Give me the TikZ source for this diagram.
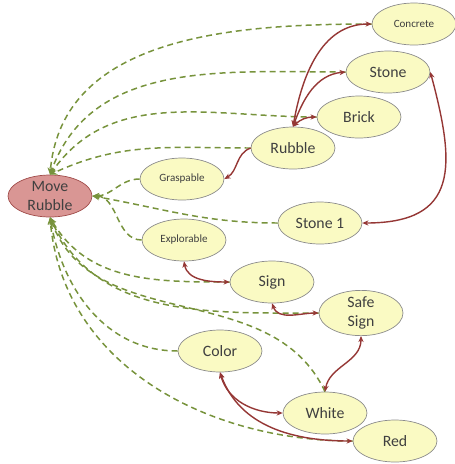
\documentclass[tikz,border=0pt]{standalone}
\usepackage{fontspec}
\setmainfont{Carlito}
\usepackage{tikz}
\tikzset{>=latex}
\usetikzlibrary{shapes.geometric,arrows.meta}
\definecolor{conceptfill}{HTML}{FAFAC3}
\definecolor{conceptline}{HTML}{8C8C8C}
\definecolor{goalfill}{HTML}{D99694}
\definecolor{goalline}{HTML}{A04C4A}
\definecolor{linkgreen}{HTML}{77933C}
\definecolor{linkred}{HTML}{953735}
\tikzset{
    concept/.style={ellipse, draw=conceptline, fill=conceptfill, minimum width=1.68cm,
        minimum height=0.84cm, inner sep=0pt, text=black!75, align=center,
        font=\fontsize{9}{10.5}\selectfont},
    smallconcept/.style={concept, font=\fontsize{6.3}{7}\selectfont},
    goal/.style={concept, draw=goalline, fill=goalfill},
    uses/.style={-{Stealth[length=4pt,width=3.5pt]}, linkgreen, line width=0.85pt,
        dash pattern=on 3.4pt off 2.3pt},
    relation/.style={{Stealth[length=3.5pt,width=3pt]}-{Stealth[length=3.5pt,width=3pt]},
        linkred, line width=0.8pt},
}

\begin{document}
\begin{tikzpicture}[x=0.02cm, y=-0.02cm]
    \useasboundingbox (0,0) rectangle (455,464);

    % Draw the goal and the concepts
    \node[goal] (move) at (50,196) {Move\\Rubble};
    \node[smallconcept] (concrete) at (414,24) {Concrete};
    \node[concept] (stone) at (388,72) {Stone};
    \node[concept] (brick) at (359,117) {Brick};
    \node[concept] (rubble) at (293,148) {Rubble};
    \node[smallconcept] (graspable) at (182,179) {Graspable};
    \node[concept] (stoneone) at (320,223) {Stone 1};
    \node[smallconcept] (explorable) at (184,240) {Explorable};
    \node[concept] (sign) at (272,282) {Sign};
    \node[concept] (safesign) at (361,313) {Safe\\Sign};
    \node[concept] (color) at (220,351) {Color};
    \node[concept] (white) at (325,413) {White};
    \node[concept] (red) at (395,441) {Red};

    % Dashed links into the top of the goal
    \foreach \src/\ang in {concrete/85, stone/70, brick/55, rubble/25} {
        \draw[uses] (\src.west) to[out=180, in=\ang] (move.north);
    }
    % Dashed links into the right side of the goal
    \foreach \src/\ang in {graspable/0, explorable/0, stoneone/-10} {
        \draw[uses] (\src.west) to[out=180, in=\ang] (move.east);
    }
    % Dashed links into the bottom of the goal
    \foreach \src/\ang in {sign/-60, safesign/-65, color/-80, red/-85} {
        \draw[uses] (\src.west) to[out=180, in=\ang] (move.south);
    }
    \draw[uses] (white.north) to[out=115, in=-70] (move.south);

    % Relations between the concepts
    \draw[relation] (rubble.north) to[out=80, in=180] (concrete.west);
    \draw[relation] (rubble.north) to[out=70, in=185] (stone.west);
    \draw[relation] (rubble.north) to[out=45, in=180] (brick.west);
    \draw[linkred, line width=0.8pt, -{Stealth[length=3.5pt,width=3pt]}]
        (rubble.west) to[out=200, in=30] (graspable.east);
    \draw[relation] (stone.east) to[out=-75, in=0, looseness=1.5] (stoneone.east);
    \draw[relation] (explorable.south) to[out=-80, in=180] (sign.west);
    \draw[relation] (sign.south) to[out=-70, in=180] (safesign.west);
    \draw[relation] (white.north) to[out=80, in=-90] (safesign.south);
    \draw[relation] (color.south) to[out=-75, in=180] (white.west);
    \draw[relation] (color.south) to[out=-70, in=180] (red.west);
\end{tikzpicture}
\end{document}
